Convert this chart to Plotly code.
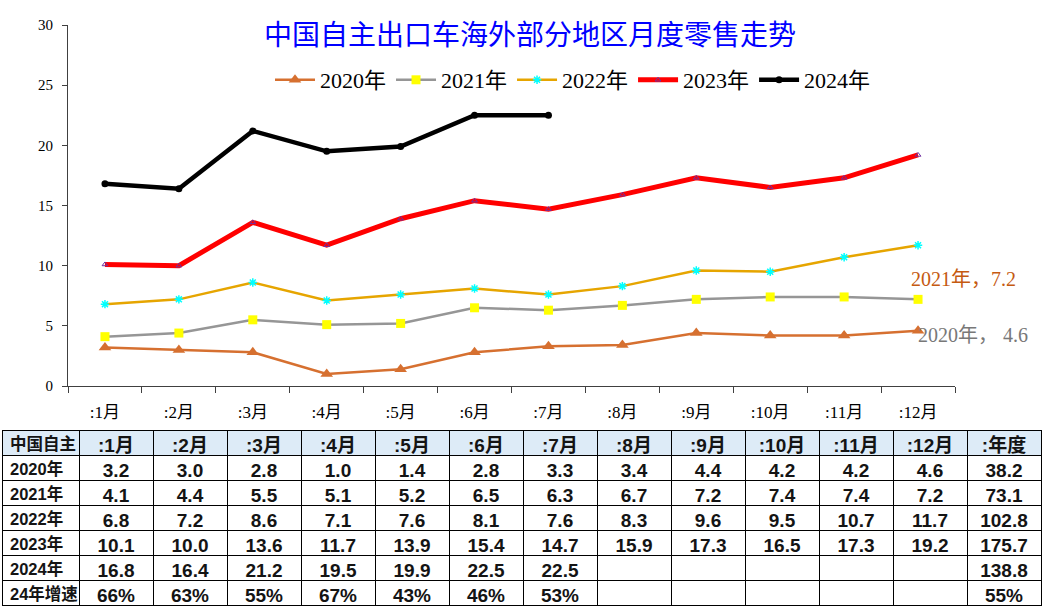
import plotly.graph_objects as go

# ---- data ----
months = [':1月', ':2月', ':3月', ':4月', ':5月', ':6月', ':7月', ':8月', ':9月', ':10月', ':11月', ':12月']
y2020 = [3.2, 3.0, 2.8, 1.0, 1.4, 2.8, 3.3, 3.4, 4.4, 4.2, 4.2, 4.6]
y2021 = [4.1, 4.4, 5.5, 5.1, 5.2, 6.5, 6.3, 6.7, 7.2, 7.4, 7.4, 7.2]
y2022 = [6.8, 7.2, 8.6, 7.1, 7.6, 8.1, 7.6, 8.3, 9.6, 9.5, 10.7, 11.7]
y2023 = [10.1, 10.0, 13.6, 11.7, 13.9, 15.4, 14.7, 15.9, 17.3, 16.5, 17.3, 19.2]
y2024 = [16.8, 16.4, 21.2, 19.5, 19.9, 22.5, 22.5]
growth24 = ['66%', '63%', '55%', '67%', '43%', '46%', '53%']
annual = ['38.2', '73.1', '102.8', '175.7', '138.8', '55%']
row_names = ['2020年', '2021年', '2022年', '2023年', '2024年', '24年增速']

W, H = 1043, 608
serif = 'Liberation Serif, Noto Sans CJK SC'
tblfont = 'Liberation Sans, Noto Sans CJK SC'

c2020 = 'rgb(214,112,48)'
c2021 = 'rgb(150,150,150)'
c2022 = 'rgb(230,165,0)'
c2023 = 'rgb(255,0,0)'
c2024 = 'rgb(0,0,0)'

fig = go.Figure()
fig.add_trace(go.Scatter(x=months, y=y2020, name='2020年', mode='lines+markers',
                         line=dict(color=c2020, width=2.5),
                         marker=dict(symbol='triangle-up', size=11, color=c2020)))
fig.add_trace(go.Scatter(x=months, y=y2021, name='2021年', mode='lines+markers',
                         line=dict(color=c2021, width=2.5),
                         marker=dict(symbol='square', size=9, color='rgb(255,255,0)')))
fig.add_trace(go.Scatter(x=months, y=y2022, name='2022年', mode='lines+markers',
                         line=dict(color=c2022, width=2.5),
                         marker=dict(symbol='asterisk-open', size=7, color='rgb(0,255,255)',
                                     line=dict(width=1.5))))
fig.add_trace(go.Scatter(x=months, y=y2023, name='2023年', mode='lines+markers',
                         line=dict(color=c2023, width=5),
                         marker=dict(symbol='triangle-up-open', size=5, color='rgb(112,48,160)',
                                     line=dict(width=1))))
fig.add_trace(go.Scatter(x=months[:len(y2024)], y=y2024, name='2024年', mode='lines+markers',
                         line=dict(color=c2024, width=4.5),
                         marker=dict(symbol='circle', size=7, color=c2024)))

# mislabeled data labels as in the original
fig.add_annotation(x=months[-1], y=y2021[-1], text='2021年，7.2', showarrow=False,
                   xanchor='left', yanchor='middle', xshift=-9, yshift=20,
                   font=dict(family=serif, size=20, color='rgb(197,90,17)'))
fig.add_annotation(x=months[-1], y=y2020[-1], text='2020年， 4.6', showarrow=False,
                   xanchor='left', yanchor='middle', xshift=-2, yshift=-4,
                   font=dict(family=serif, size=20, color='rgb(120,120,120)'))

# ---- table ----
header = ['中国自主'] + months + [':年度']
cols = [row_names]
all_years = [y2020, y2021, y2022, y2023]
for i in range(12):
    col = ['%.1f' % s[i] for s in all_years]
    if i < len(y2024):
        col += ['%.1f' % y2024[i], growth24[i]]
    else:
        col += ['', '']
    cols.append(col)
cols.append(annual)

sizes = [16.5] + [19] * 13
fig.add_trace(go.Table(
    domain=dict(x=[2 / W, 1041 / W], y=[0, 1 - 430 / H]),
    columnwidth=[77] + [74] * 13,
    header=dict(values=header, height=25, fill_color='rgb(221,235,247)',
                line=dict(color='black', width=1),
                align=['left'] + ['center'] * 13,
                font=dict(family=tblfont, size=sizes, color='rgb(20,20,20)', weight='bold')),
    cells=dict(values=cols, height=25, fill_color='white',
               line=dict(color='black', width=1),
               align=['left'] + ['center'] * 13,
               font=dict(family=tblfont, size=sizes, color='rgb(20,20,20)', weight='bold')),
))

fig.update_layout(
    width=W, height=H,
    margin=dict(l=0, r=0, t=0, b=0),
    paper_bgcolor='white', plot_bgcolor='white',
    title=dict(text='中国自主出口车海外部分地区月度零售走势', x=530 / W, y=1 - 35 / H,
               xanchor='center', yanchor='middle',
               font=dict(family='Noto Sans CJK SC', size=28, color='rgb(0,0,255)')),
    legend=dict(orientation='h', x=573 / W, y=1 - 80 / H, xanchor='center', yanchor='middle',
                font=dict(family=serif, size=22, color='black'), itemwidth=40,
                bgcolor='rgba(0,0,0,0)'),
    xaxis=dict(domain=[68 / W, 955 / W], type='category', range=[-0.5, 11.5],
               tickson='boundaries',
               showgrid=False, zeroline=False, showline=True, linecolor='rgb(64,64,64)',
               ticks='outside', ticklen=6, tickcolor='rgb(64,64,64)', ticklabelstandoff=11,
               tickfont=dict(family=serif, size=17, color='black'), automargin=False),
    yaxis=dict(domain=[1 - 386 / H, 1 - 25 / H], range=[0, 30], dtick=5, tick0=0,
               showgrid=False, zeroline=False, showline=True, linecolor='rgb(64,64,64)',
               ticks='outside', ticklen=5, tickcolor='rgb(64,64,64)', ticklabelstandoff=6,
               tickfont=dict(family=serif, size=15, color='black'), automargin=False),
)

fig.write_html('out.html', config={'displayModeBar': False},
               post_script="document.body.style.margin='0px';")
